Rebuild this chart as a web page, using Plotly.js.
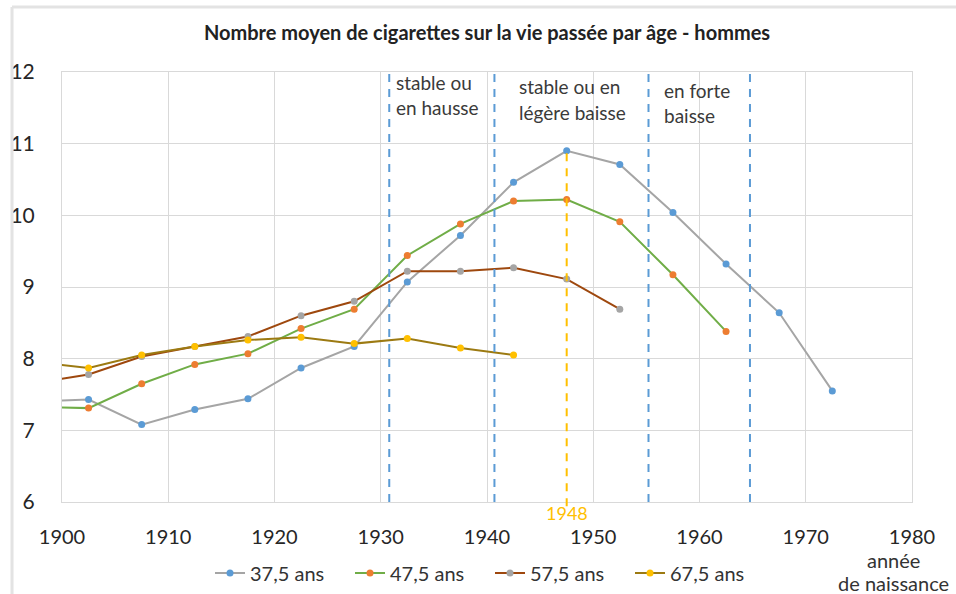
<!DOCTYPE html>
<html>
<head>
<meta charset="utf-8">
<script src="https://cdn.plot.ly/plotly-3.0.1.min.js"></script>
<style>
  html, body { margin: 0; padding: 0; background: #fff; }
  #chart { width: 956px; height: 594px; }
</style>
</head>
<body>
<div id="chart"></div>
<script>
// Birth-year cohorts (first value lies just left of 1900 so the line enters from the edge)
const years = [1897.5, 1902.5, 1907.5, 1912.5, 1917.5, 1922.5, 1927.5, 1932.5, 1937.5, 1942.5, 1947.5, 1952.5, 1957.5, 1962.5, 1967.5, 1972.5];

const seriesNames = ["37,5 ans", "47,5 ans", "57,5 ans", "67,5 ans"];

const age37 = [7.40, 7.43, 7.08, 7.29, 7.44, 7.87, 8.17, 9.07, 9.72, 10.46, 10.90, 10.71, 10.04, 9.32, 8.64, 7.55];
const age47 = [7.33, 7.31, 7.65, 7.92, 8.07, 8.42, 8.69, 9.44, 9.88, 10.20, 10.22, 9.91, 9.17, 8.38];
const age57 = [7.66, 7.78, 8.03, 8.17, 8.31, 8.60, 8.80, 9.22, 9.22, 9.27, 9.11, 8.69];
const age67 = [7.95, 7.87, 8.05, 8.17, 8.26, 8.30, 8.21, 8.28, 8.15, 8.05];

const xTicks = [1900, 1910, 1920, 1930, 1940, 1950, 1960, 1970, 1980];
const yTicks = [6, 7, 8, 9, 10, 11, 12];

const lineColors   = ["#A5A5A5", "#70AD47", "#9E480E", "#9C7A12"];
const markerColors = ["#5B9BD5", "#ED7D31", "#A5A5A5", "#FFC000"];
const allValues = [age37, age47, age57, age67];

const FONT = "Lato, 'Open Sans', 'Liberation Sans', sans-serif";

const traces = allValues.map((vals, i) => ({
  type: "scatter",
  mode: "lines+markers",
  name: seriesNames[i],
  x: years.slice(0, vals.length),
  y: vals,
  line: { color: lineColors[i], width: 2 },
  marker: { color: markerColors[i], size: 7 },
  cliponaxis: true
}));

const blueDash = { color: "#5B9BD5", width: 2, dash: "8px,7px" };
const shapes = [1930.8, 1940.7, 1955.2, 1964.75].map(xv => ({
  type: "line", xref: "x", yref: "paper", x0: xv, x1: xv, y0: 0, y1: 1, line: blueDash, layer: "above"
}));
shapes.push({
  type: "line", xref: "x", yref: "paper", x0: 1947.5, x1: 1947.5, y0: -0.01, y1: (10.9 - 6) / 6,
  line: { color: "#FFC000", width: 2, dash: "8px,7px" }, layer: "above"
});
// outer chart frame (left + top)
shapes.push({ type: "line", xref: "paper", yref: "paper", x0: -0.0588, x1: -0.0588, y0: -0.3, y1: 1.151, line: { color: "#E3E3E3", width: 3 } });
shapes.push({ type: "line", xref: "paper", yref: "paper", x0: -0.0588, x1: 1.1, y0: 1.151, y1: 1.151, line: { color: "#E3E3E3", width: 3 } });

const py = p => (502 - p) / 430;
const txt = (text, x, y, opts = {}) => Object.assign({
  text, x, y, xref: "x", yref: "paper", showarrow: false, xanchor: "left", yanchor: "middle",
  font: { family: FONT, size: 19, color: "#3a3a3a" }
}, opts);

const annotations = [
  txt("stable ou", 1931.2, py(82)),
  txt("en hausse", 1931.2, py(108)),
  txt("stable ou en", 1942.8, py(87)),
  txt("légère baisse", 1942.8, py(112)),
  txt("en forte", 1956.5, py(90)),
  txt("baisse", 1956.5, py(115)),
  txt("1948", 1947.5, py(513), { xanchor: "center", font: { family: FONT, size: 18, color: "#FFC000" } }),
  { text: "année", xref: "paper", yref: "paper", x: (893 - 62) / 850, y: py(560), showarrow: false, xanchor: "center", yanchor: "middle", font: { family: FONT, size: 20, color: "#333" } },
  { text: "de naissance", xref: "paper", yref: "paper", x: (893 - 62) / 850, y: py(583), showarrow: false, xanchor: "center", yanchor: "middle", font: { family: FONT, size: 20, color: "#333" } }
];

const layout = {
  width: 956, height: 594,
  margin: { l: 62, r: 44, t: 72, b: 92 },
  paper_bgcolor: "#fff", plot_bgcolor: "#fff",
  font: { family: FONT, color: "#333" },
  title: {
    text: "<b>Nombre moyen de cigarettes sur la vie passée par âge - hommes</b>",
    x: 0.5, xref: "paper", xanchor: "center", y: 1 - 33 / 594, yanchor: "middle",
    font: { family: FONT, size: 20, color: "#222" }
  },
  xaxis: {
    range: [1900, 1980], tickvals: xTicks, ticktext: xTicks.map(String),
    showgrid: true, gridcolor: "#D9D9D9", gridwidth: 1,
    showline: true, linecolor: "#D9D9D9", linewidth: 1, mirror: true,
    zeroline: false, ticks: "", ticklabelstandoff: 17, automargin: false,
    tickfont: { family: FONT, size: 20, color: "#262626" }, fixedrange: true
  },
  yaxis: {
    range: [6, 12], tickvals: yTicks, ticktext: yTicks.map(String),
    showgrid: true, gridcolor: "#D9D9D9", gridwidth: 1,
    showline: true, linecolor: "#D9D9D9", linewidth: 1, mirror: true,
    zeroline: false, ticks: "", ticklabelstandoff: 22, automargin: false,
    tickfont: { family: FONT, size: 21, color: "#262626" }, fixedrange: true
  },
  showlegend: true,
  legend: {
    orientation: "h", xref: "container", yref: "container",
    x: 490 / 956, xanchor: "center", y: 1 - 573 / 594, yanchor: "middle",
    font: { family: FONT, size: 20, color: "#333" }, itemwidth: 30, entrywidth: 95,
    bgcolor: "rgba(0,0,0,0)"
  },
  shapes, annotations
};

Plotly.newPlot("chart", traces, layout, { displayModeBar: false, staticPlot: true });
</script>
</body>
</html>
